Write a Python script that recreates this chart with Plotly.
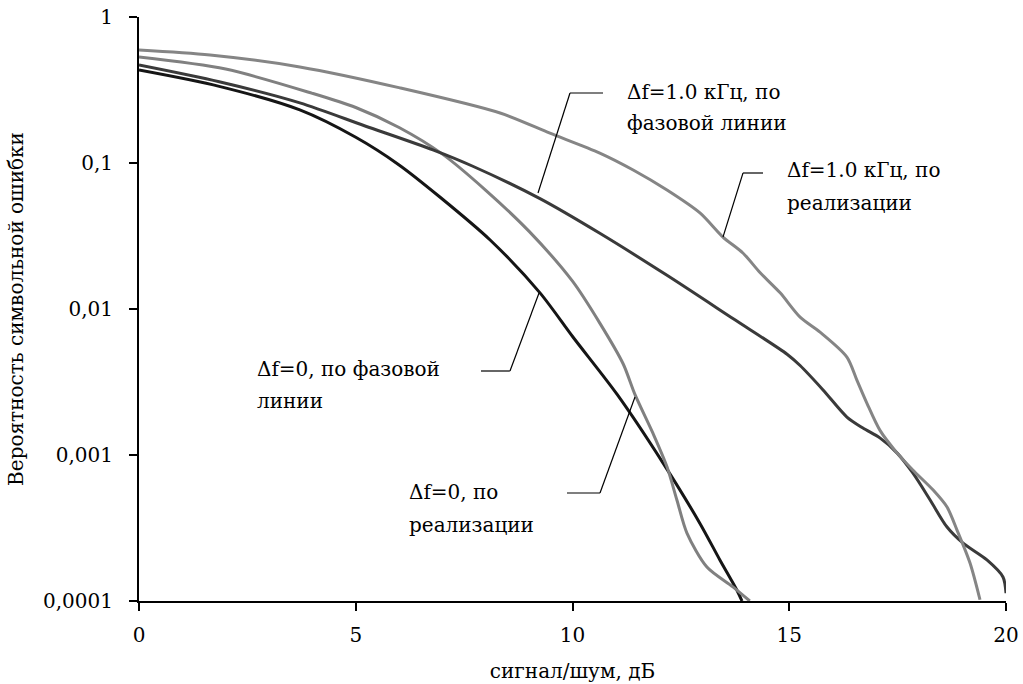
import plotly.graph_objects as go

# SNR (dB) and symbol error probability
snr_a = [0, 1.85, 3.71, 5.0, 6.0, 6.94, 8.10, 9.25, 10.01, 11.03, 12.09, 12.94, 13.40, 13.79, 13.91]
p_a = [0.433, 0.335, 0.231, 0.150, 0.097, 0.0585, 0.0297, 0.0129, 0.00643, 0.0026, 0.00088, 0.00034, 0.000191, 0.000119, 0.0001]

snr_b = [0, 2, 4, 5, 6, 7, 8, 9, 10, 10.63, 11.17, 11.44, 11.86, 12.18, 12.41, 12.64, 13.10, 13.70, 14.09]
p_b = [0.532, 0.44, 0.30, 0.24, 0.175, 0.115, 0.065, 0.034, 0.0155, 0.0080, 0.0042, 0.0026, 0.00140, 0.00083, 0.00049, 0.000292, 0.000171, 0.000125, 0.0001]

snr_c = [0, 1.85, 3.71, 5.2, 6.78, 7.7, 9.25, 10.63, 12.18, 13.70, 14.95, 15.25, 15.78, 16.33, 16.70, 17.09, 17.49, 17.85, 18.25, 18.64, 19.01, 19.56, 19.93, 20.0]
p_c = [0.469, 0.36, 0.258, 0.18, 0.123, 0.095, 0.057, 0.033, 0.0170, 0.0086, 0.0049, 0.0041, 0.00279, 0.00182, 0.00153, 0.00131, 0.00103, 0.000753, 0.000492, 0.000321, 0.000249, 0.000191, 0.000146, 0.000113]

snr_d = [0, 1.64, 3.71, 6.02, 8.33, 9.48, 10.63, 11.40, 12.18, 12.94, 13.47, 13.93, 14.33, 14.79, 15.25, 15.71, 16.33, 16.56, 16.79, 17.09, 17.49, 17.85, 18.32, 18.64, 18.87, 19.17, 19.40]
p_d = [0.594, 0.549, 0.455, 0.327, 0.220, 0.160, 0.117, 0.0896, 0.0653, 0.0455, 0.0311, 0.0242, 0.0177, 0.0129, 0.0088, 0.00695, 0.00469, 0.00326, 0.00227, 0.00148, 0.00103, 0.00079, 0.000575, 0.00044, 0.000306, 0.000182, 0.000102]

names = ["Δf=0, по фазовой линии", "Δf=0, по реализации",
         "Δf=1.0 кГц, по фазовой линии", "Δf=1.0 кГц, по реализации"]

x_ticks = [0, 5, 10, 15, 20]
y_tickvals = [0.0001, 0.001, 0.01, 0.1, 1]
y_ticktext = ["0,0001", "0,001", "0,01", "0,1", "1"]

FONT = "DejaVu Serif"
FS = 20

fig = go.Figure()
series = [(snr_a, p_a, "#151515"), (snr_b, p_b, "#808080"),
          (snr_c, p_c, "#3a3a3a"), (snr_d, p_d, "#858585")]
for (xs, ys, col), nm in zip(series, names):
    fig.add_trace(go.Scatter(x=xs, y=ys, mode="lines", name=nm,
                             line=dict(color=col, width=3, shape="spline", smoothing=0.8),
                             hoverinfo="skip"))

# plot area on screen: 139..1006 x 17..601
W, H = 1023, 684
L, R, T, B = 139, 1006, 17, 601
def px(x):
    return (x - L) / (R - L)
def py(y):
    return (B - y) / (B - T)

labels = [
    ("Δf=1.0 кГц, по", 625, 92), ("фазовой линии", 625, 123),
    ("Δf=1.0 кГц, по", 785, 170), ("реализации", 785, 203),
    ("Δf=0, по фазовой", 255, 369), ("линии", 255, 401),
    ("Δf=0, по", 407, 492), ("реализации", 407, 525),
]
for txt, x, y in labels:
    fig.add_annotation(x=px(x), y=py(y), xref="paper", yref="paper", text=txt,
                       showarrow=False, xanchor="left", yanchor="middle",
                       font=dict(family=FONT, size=FS, color="black"))

leaders = [
    [(603, 93), (570, 93), (538, 193)],
    [(763, 173), (743, 173), (723, 237)],
    [(481, 371), (510, 371), (539, 293)],
    [(567, 493), (600, 493), (635, 397)],
]
for pts in leaders:
    for (x0, y0), (x1, y1) in zip(pts[:-1], pts[1:]):
        fig.add_shape(type="line", xref="paper", yref="paper",
                      x0=px(x0), y0=py(y0), x1=px(x1), y1=py(y1),
                      line=dict(color="black", width=1.2))

fig.update_layout(
    width=W, height=H,
    margin=dict(l=L, r=W - R, t=T, b=H - B),
    paper_bgcolor="white", plot_bgcolor="white",
    showlegend=False,
    font=dict(family=FONT, size=FS, color="black"),
)
fig.update_xaxes(range=[0, 20], tickvals=x_ticks, showgrid=False, zeroline=False,
                 showline=True, linecolor="black", linewidth=2, automargin=False,
                 ticks="outside", ticklen=8, tickwidth=2, tickcolor="black",
                 ticklabelstandoff=7, ticklabeloverflow="allow",
                 title=dict(text="сигнал/шум, дБ", standoff=18,
                            font=dict(family=FONT, size=FS)))
fig.update_yaxes(type="log", range=[-4, 0], tickvals=y_tickvals, ticktext=y_ticktext,
                 showgrid=False, zeroline=False, automargin=False,
                 showline=True, linecolor="black", linewidth=2,
                 ticks="outside", ticklen=8, tickwidth=2, tickcolor="black",
                 ticklabelstandoff=12, ticklabeloverflow="allow",
                 title=dict(text="Вероятность символьной ошибки", standoff=14,
                            font=dict(family=FONT, size=FS)))

fig.write_html("out.html", config={"displayModeBar": False},
               post_script="document.body.style.margin='0';document.body.style.overflow='hidden';")
